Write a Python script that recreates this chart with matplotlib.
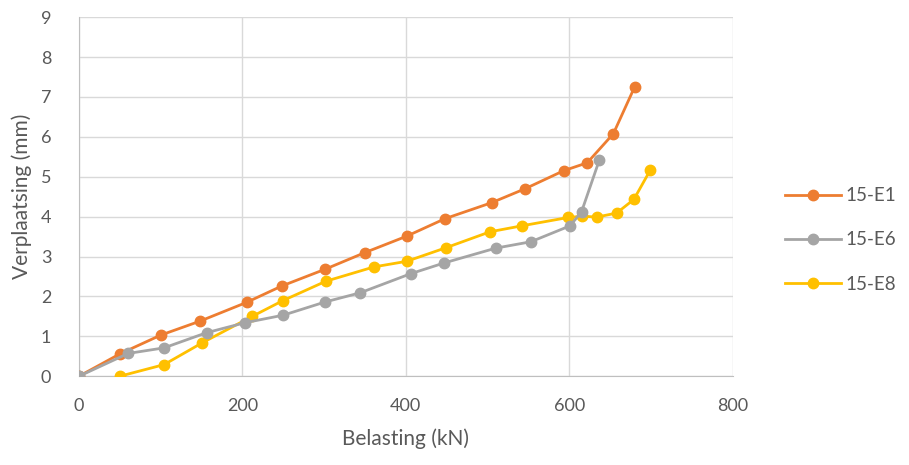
import matplotlib.pyplot as plt

# 15-E1
e1_x = [0, 50, 100, 148, 205, 248, 301, 350, 401, 448, 505, 546, 593, 622, 654, 680]
e1_y = [0, 0.56, 1.03, 1.38, 1.85, 2.26, 2.68, 3.10, 3.51, 3.95, 4.35, 4.70, 5.15, 5.35, 6.08, 7.25]

# 15-E6
e6_x = [0, 60, 104, 156, 203, 250, 301, 344, 406, 447, 510, 553, 601, 615, 637]
e6_y = [0, 0.57, 0.71, 1.09, 1.34, 1.53, 1.86, 2.09, 2.57, 2.84, 3.21, 3.37, 3.77, 4.12, 5.43]

# 15-E8
e8_x = [50, 104, 151, 212, 249, 302, 361, 401, 449, 503, 542, 599, 616, 634, 658, 679, 699]
e8_y = [0.0, 0.29, 0.84, 1.50, 1.89, 2.38, 2.74, 2.88, 3.22, 3.62, 3.77, 3.98, 4.01, 3.99, 4.09, 4.43, 5.16]

plt.rcParams['font.family'] = ['Lato', 'DejaVu Sans']

fig = plt.figure(figsize=(9.09, 4.65), dpi=100)
ax = fig.add_axes([0.087, 0.191, 0.719, 0.772])

ax.plot(e1_x, e1_y, color='#ED7D31', marker='o', ms=7.5, lw=2, label='15-E1', zorder=3)
ax.plot(e6_x, e6_y, color='#A5A5A5', marker='o', ms=7.5, lw=2, label='15-E6', zorder=4)
ax.plot(e8_x, e8_y, color='#FFC000', marker='o', ms=7.5, lw=2, label='15-E8', zorder=3)

ax.set_xlim(0, 800)
ax.set_ylim(0, 9)
ax.set_xticks(range(0, 801, 200))
ax.set_yticks(range(0, 10))
ax.grid(True, color='#D9D9D9', lw=1)
ax.set_axisbelow(True)
for s in ['top', 'right']:
    ax.spines[s].set_visible(False)
for s in ['left', 'bottom']:
    ax.spines[s].set_color('#BFBFBF')
ax.tick_params(length=0, labelsize=13, labelcolor='#595959')
ax.tick_params(axis='y', pad=20)
ax.tick_params(axis='x', pad=16)
for lbl in ax.get_xticklabels() + ax.get_yticklabels():
    lbl.set_clip_on(False)

ax.set_xlabel('Belasting (kN)', fontsize=15, color='#595959', labelpad=10)
ax.set_ylabel('Verplaatsing (mm)', fontsize=15, color='#595959', labelpad=6)

ax.legend(loc='center left', bbox_to_anchor=(0.845, 0.484), bbox_transform=fig.transFigure,
          frameon=False, fontsize=13.5, labelcolor='#595959', handlelength=3.0,
          handletextpad=0.2, labelspacing=1.45)

fig.savefig('out.png')
